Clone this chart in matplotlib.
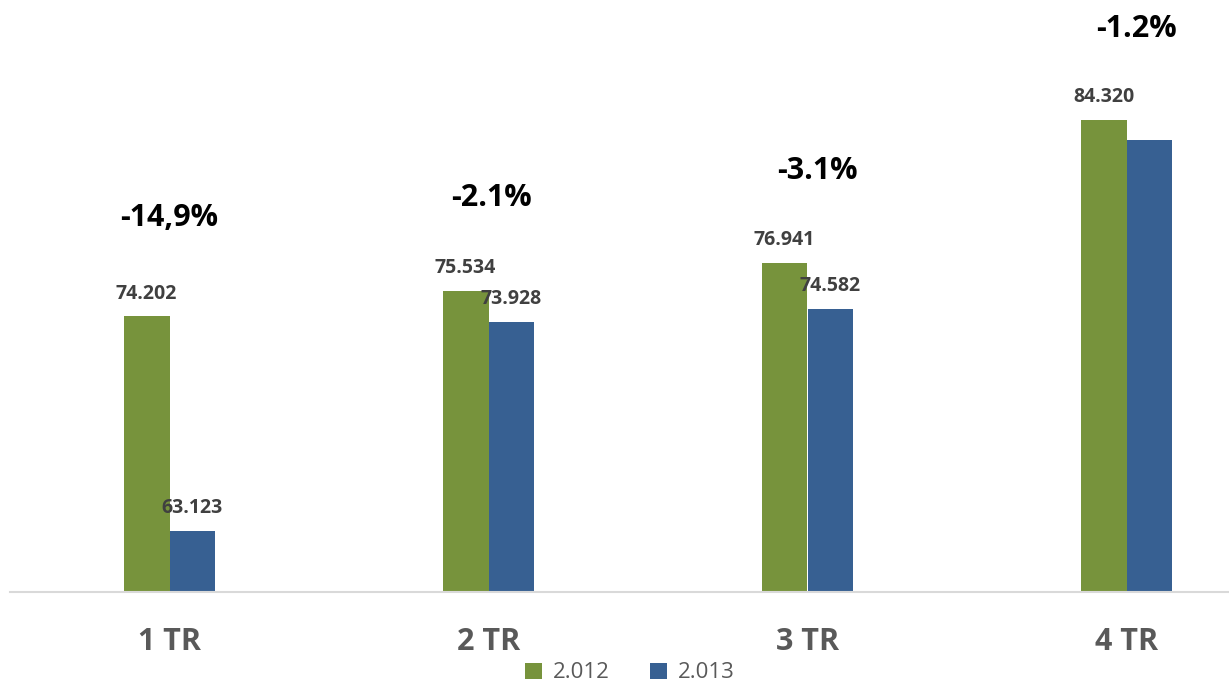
import matplotlib.pyplot as plt
import numpy as np

plt.rcParams['font.family'] = ['Open Sans', 'DejaVu Sans']

quarters = ['1 TR', '2 TR', '3 TR', '4 TR']
years = ['2.012', '2.013']
sales_2012 = [74.202, 75.534, 76.941, 84.320]
sales_2013 = [63.123, 73.928, 74.582, 83.308]
value_labels_2012 = ['74.202', '75.534', '76.941', '84.320']
value_labels_2013 = ['63.123', '73.928', '74.582', '']
change_labels = ['-14,9%', '-2.1%', '-3.1%', '-1.2%']

green = '#77933C'
blue = '#376092'

fig = plt.figure(figsize=(12.29, 6.83), dpi=100)
ax = fig.add_axes([10 / 1229, 1 - 592 / 683, 1219 / 1229, 592 / 683])

pos = np.arange(len(quarters))
width = 0.144

bars1 = ax.bar(pos - width / 2, sales_2012, width, color=green, label=years[0], zorder=2)
bars2 = ax.bar(pos + width / 2, sales_2013, width, color=blue, label=years[1], zorder=2)

# value labels above each bar
for bars, labels in [(bars1, value_labels_2012), (bars2, value_labels_2013)]:
    for b, txt in zip(bars, labels):
        if not txt:
            continue
        ax.annotate(txt, (b.get_x() + b.get_width() / 2, b.get_height()),
                    xytext=(0, 16.5), textcoords='offset points',
                    ha='center', va='center', fontsize=14,
                    fontweight='bold', color='#404040', zorder=3)

# percentage change labels
change_y = [79.3, 80.3, 81.7, 89.0]
change_dx = [0.0, 0.01, 0.03, 0.03]
for i, txt in enumerate(change_labels):
    ax.text(pos[i] + change_dx[i], change_y[i], txt, ha='center', va='center',
            fontsize=22, fontweight='bold', color='black')

ax.set_ylim(60, 60 + 592 / 19.4)
ax.set_xlim(-0.5, -0.5 + 1219 / 319)

for s in ['top', 'right', 'left']:
    ax.spines[s].set_visible(False)
ax.spines['bottom'].set_color('#D9D9D9')
ax.spines['bottom'].set_linewidth(1.5)
ax.set_yticks([])
ax.set_xticks(pos)
ax.set_xticklabels(quarters, fontsize=22, fontweight='bold', color='#595959')
ax.tick_params(axis='x', length=0, pad=25)

fig.legend(loc='center', bbox_to_anchor=(630 / 1229, 1 - 673 / 683), ncol=2,
           frameon=False, fontsize=16, labelcolor='#595959',
           handlelength=0.75, handleheight=0.75, columnspacing=1.8, handletextpad=0.5)

fig.savefig('out.png', dpi=100)
